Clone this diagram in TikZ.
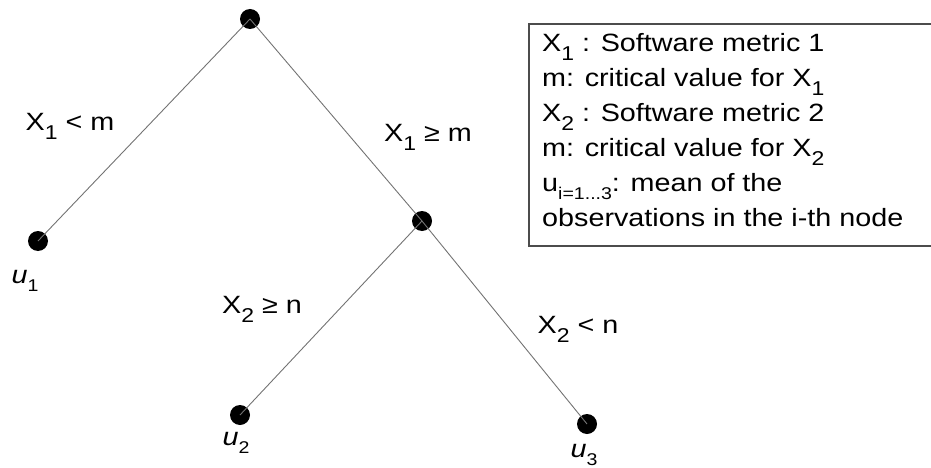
\documentclass[tikz,border=0pt]{standalone}
\usepackage{fontspec}
\setmainfont[FakeStretch=1.15]{Liberation Sans}
\usetikzlibrary{positioning}

% lowered index, as the slides print it
\newcommand{\lowidx}[1]{\raisebox{-9pt}{\fontsize{20}{20}\selectfont #1}}
\newcommand{\smallidx}[1]{\raisebox{-8pt}{\fontsize{17}{17}\selectfont #1}}

\begin{document}
\begin{tikzpicture}[
    x=1pt, y=-1pt,
    split/.style={circle, fill=black, minimum size=20pt, inner sep=0pt},
    branch/.style={draw=black!55, line width=0.9pt},
    cond/.style={font=\fontsize{25}{28}\selectfont, inner sep=0pt},
    mean/.style={font=\fontsize{25}{28}\selectfont\itshape, inner sep=0pt},
    legend/.style={font=\fontsize{25}{35}\selectfont, align=left, inner sep=0pt}
  ]
  \useasboundingbox (0,0) rectangle (931,468);

  % tree
  \node[split] (root)  at (250,19)  {};
  \node[split] (leafa) at (38,241)  {};
  \node[split] (inner) at (422,221) {};
  \node[split] (leafb) at (240,415) {};
  \node[split] (leafc) at (587,424) {};

  \draw[branch] (root.center) -- (leafa.center);
  \draw[branch] (root.center) -- (inner.center);
  \draw[branch] (inner.center) -- (leafb.center);
  \draw[branch] (inner.center) -- (leafc.center);

  \node[cond] (c1) at (70,126)  {X\lowidx{1} < m};
  \node[cond] (c2) at (428,137) {X\lowidx{1} ≥ m};
  \node[cond] (c3) at (262,309) {X\lowidx{2} ≥ n};
  \node[cond] (c4) at (578,329) {X\lowidx{2} < n};

  \node[mean, below=19pt of leafa, xshift=-13pt] (ua) {u\smallidx{\upshape 1}};
  \node[mean, below=7pt of leafb, xshift=-4pt]   (ub) {u\smallidx{\upshape 2}};
  \node[mean, below=10pt of leafc, xshift=-3pt]  (uc) {u\smallidx{\upshape 3}};

  % legend, its right side runs off the page
  \draw[draw=black!70, line width=1.3pt] (931,24) -- (529,24) -- (529,246) -- (931,246);
  \node[legend, anchor=north west] (key) at (542,33) {%
    X\lowidx{1} : Software metric 1\\
    m: critical value for X\lowidx{1}\\
    X\lowidx{2} : Software metric 2\\
    m: critical value for X\lowidx{2}\\
    u\smallidx{i=1...3}: mean of the\\
    observations in the i-th node};
\end{tikzpicture}
\end{document}
